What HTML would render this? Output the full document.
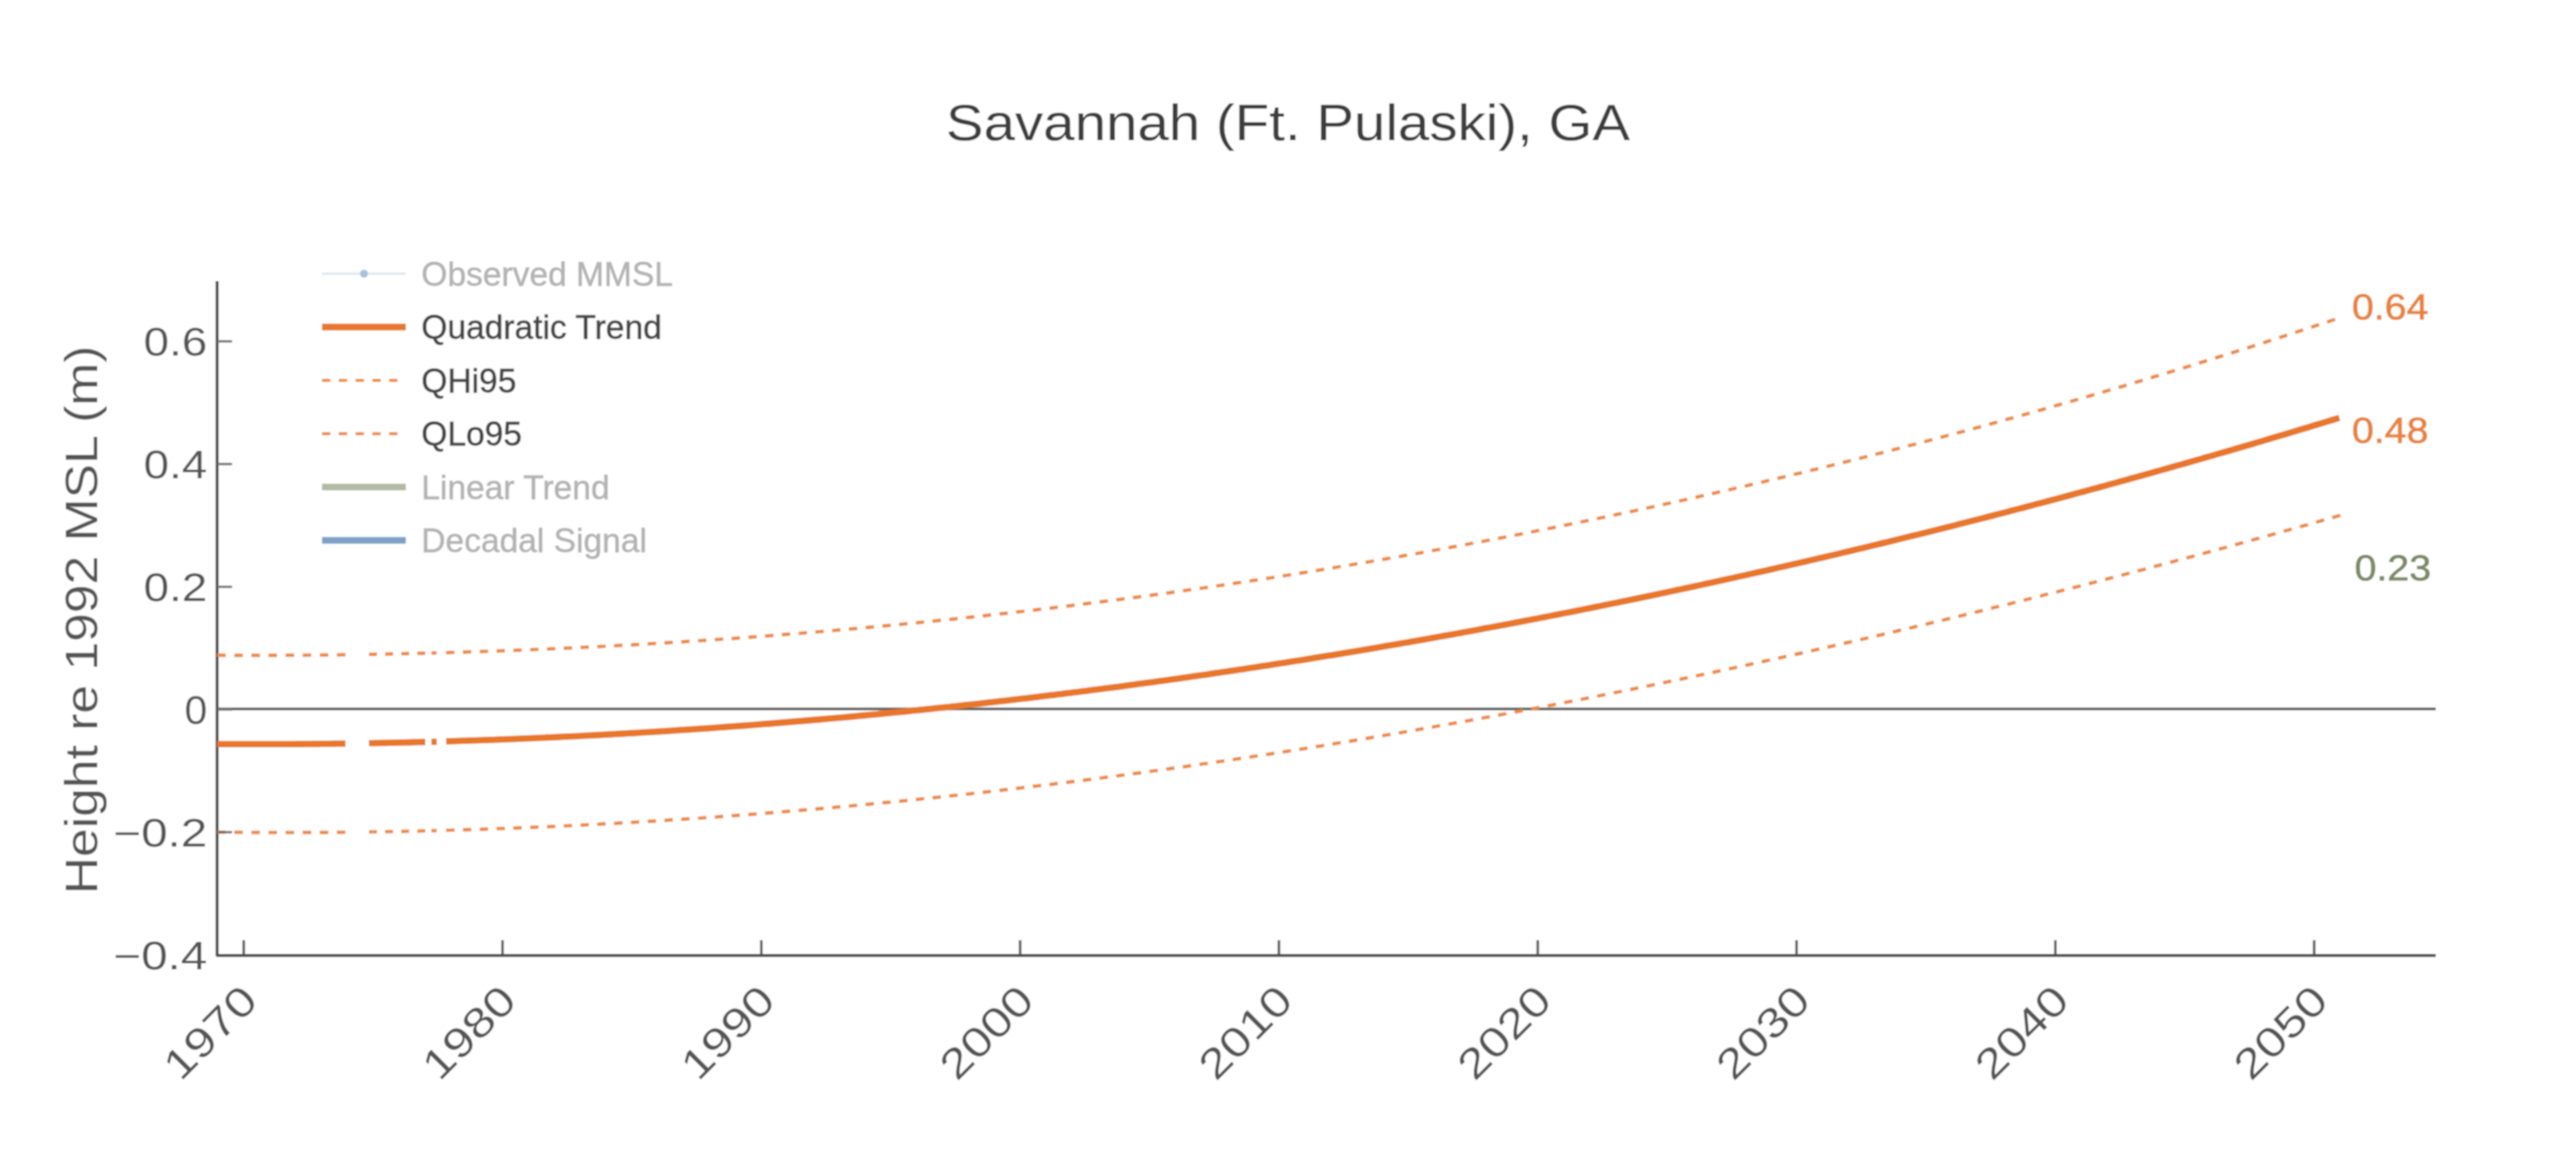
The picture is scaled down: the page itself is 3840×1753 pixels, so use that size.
<!DOCTYPE html><html><head><meta charset="utf-8"><style>html,body{margin:0;padding:0;background:#fff;overflow:hidden}svg{display:block}</style></head><body>
<svg width="3840" height="1753" viewBox="0 0 3840 1753" style="font-family:'Liberation Sans', sans-serif">
<defs><filter id="bl" x="0" y="0" width="3840" height="1753" filterUnits="userSpaceOnUse"><feGaussianBlur stdDeviation="0.8"/></filter></defs><g filter="url(#bl)">
<rect width="3840" height="1753" fill="#fff"/>
<text x="1410" y="208.5" font-size="76" fill="#3d3d3d" textLength="1020" lengthAdjust="spacingAndGlyphs">Savannah (Ft. Pulaski), GA</text>
<text transform="translate(145,1333) rotate(-90)" x="0" y="0" font-size="68" fill="#555" textLength="818" lengthAdjust="spacingAndGlyphs">Height re 1992 MSL (m)</text>
<text x="309" y="529.8" font-size="58.5" fill="#555" text-anchor="end" textLength="95" lengthAdjust="spacingAndGlyphs">0.6</text>
<text x="309" y="712.7" font-size="58.5" fill="#555" text-anchor="end" textLength="95" lengthAdjust="spacingAndGlyphs">0.4</text>
<text x="309" y="895.7" font-size="58.5" fill="#555" text-anchor="end" textLength="95" lengthAdjust="spacingAndGlyphs">0.2</text>
<text x="309" y="1078.6" font-size="58.5" fill="#555" text-anchor="end" textLength="34" lengthAdjust="spacingAndGlyphs">0</text>
<text x="309" y="1261.5" font-size="58.5" fill="#555" text-anchor="end" textLength="140" lengthAdjust="spacingAndGlyphs">−0.2</text>
<text x="309" y="1444.5" font-size="58.5" fill="#555" text-anchor="end" textLength="140" lengthAdjust="spacingAndGlyphs">−0.4</text>
<line x1="323.7" y1="1056.8" x2="3631" y2="1056.8" stroke="#5a5a5a" stroke-width="4"/>
<line x1="363.3" y1="1401.5" x2="363.3" y2="1424" stroke="#606060" stroke-width="4"/>
<text transform="translate(387.3,1495) rotate(-45)" x="0" y="0" font-size="62" fill="#555" text-anchor="end" textLength="167" lengthAdjust="spacingAndGlyphs">1970</text>
<line x1="749.1" y1="1401.5" x2="749.1" y2="1424" stroke="#606060" stroke-width="4"/>
<text transform="translate(773.1,1495) rotate(-45)" x="0" y="0" font-size="62" fill="#555" text-anchor="end" textLength="167" lengthAdjust="spacingAndGlyphs">1980</text>
<line x1="1134.9" y1="1401.5" x2="1134.9" y2="1424" stroke="#606060" stroke-width="4"/>
<text transform="translate(1158.9,1495) rotate(-45)" x="0" y="0" font-size="62" fill="#555" text-anchor="end" textLength="167" lengthAdjust="spacingAndGlyphs">1990</text>
<line x1="1520.7" y1="1401.5" x2="1520.7" y2="1424" stroke="#606060" stroke-width="4"/>
<text transform="translate(1544.7,1495) rotate(-45)" x="0" y="0" font-size="62" fill="#555" text-anchor="end" textLength="167" lengthAdjust="spacingAndGlyphs">2000</text>
<line x1="1906.5" y1="1401.5" x2="1906.5" y2="1424" stroke="#606060" stroke-width="4"/>
<text transform="translate(1930.5,1495) rotate(-45)" x="0" y="0" font-size="62" fill="#555" text-anchor="end" textLength="167" lengthAdjust="spacingAndGlyphs">2010</text>
<line x1="2292.3" y1="1401.5" x2="2292.3" y2="1424" stroke="#606060" stroke-width="4"/>
<text transform="translate(2316.3,1495) rotate(-45)" x="0" y="0" font-size="62" fill="#555" text-anchor="end" textLength="167" lengthAdjust="spacingAndGlyphs">2020</text>
<line x1="2678.1" y1="1401.5" x2="2678.1" y2="1424" stroke="#606060" stroke-width="4"/>
<text transform="translate(2702.1,1495) rotate(-45)" x="0" y="0" font-size="62" fill="#555" text-anchor="end" textLength="167" lengthAdjust="spacingAndGlyphs">2030</text>
<line x1="3063.9" y1="1401.5" x2="3063.9" y2="1424" stroke="#606060" stroke-width="4"/>
<text transform="translate(3087.9,1495) rotate(-45)" x="0" y="0" font-size="62" fill="#555" text-anchor="end" textLength="167" lengthAdjust="spacingAndGlyphs">2040</text>
<line x1="3449.7" y1="1401.5" x2="3449.7" y2="1424" stroke="#606060" stroke-width="4"/>
<text transform="translate(3473.7,1495) rotate(-45)" x="0" y="0" font-size="62" fill="#555" text-anchor="end" textLength="167" lengthAdjust="spacingAndGlyphs">2050</text>
<path d="M323.7,419 L323.7,1424.3 L3631,1424.3" fill="none" stroke="#4c4c4c" stroke-width="4.5" stroke-linejoin="round"/>
<path d="M323.7,976.7 L329.7,976.7 L335.7,976.8 L341.7,976.8 L347.7,976.8 L353.7,976.8 L359.7,976.8 L365.7,976.9 L371.7,976.9 L377.7,976.9 L383.7,976.9 L389.7,976.9 L395.7,976.8 L401.7,976.8 L407.7,976.8 L413.7,976.8 L419.7,976.8 L425.7,976.7 L431.7,976.7 L437.7,976.7 L443.7,976.6 L449.7,976.6 L455.7,976.6 L461.7,976.5 L467.7,976.5 L473.7,976.4 L479.7,976.4 L485.7,976.3 L491.7,976.2 L497.7,976.2 L503.7,976.1 L509.7,976.0 L515.0,975.9" fill="none" stroke="#ee8a45" stroke-width="5.2" stroke-dasharray="12.754,12.754"/><path d="M550.0,975.4 L556.0,975.3 L562.0,975.2 L568.0,975.1 L574.0,975.0 L580.0,974.9 L586.0,974.7 L592.0,974.6 L598.0,974.5 L604.0,974.4 L610.0,974.2 L616.0,974.1 L622.0,973.9 L628.0,973.8 L634.0,973.6" fill="none" stroke="#ee8a45" stroke-width="5.2" stroke-dasharray="12.003,12.003"/><path d="M643.0,973.4 L649.0,973.3 L651.0,973.2" fill="none" stroke="#ee8a45" stroke-width="5.2" stroke-dasharray="12.500,12.500"/><path d="M665.0,972.8 L671.0,972.7 L677.0,972.5 L683.0,972.3 L689.0,972.1 L695.0,971.9 L701.0,971.7 L707.0,971.6 L713.0,971.4 L719.0,971.2 L725.0,971.0 L731.0,970.7 L737.0,970.5 L743.0,970.3 L749.0,970.1 L755.0,969.9 L761.0,969.7 L767.0,969.4 L773.0,969.2 L779.0,969.0 L785.0,968.7 L791.0,968.5 L797.0,968.2 L803.0,968.0 L809.0,967.7 L815.0,967.5 L821.0,967.2 L827.0,967.0 L833.0,966.7 L839.0,966.4 L845.0,966.1 L851.0,965.9 L857.0,965.6 L863.0,965.3 L869.0,965.0 L875.0,964.7 L881.0,964.4 L887.0,964.1 L893.0,963.8 L899.0,963.5 L905.0,963.2 L911.0,962.9 L917.0,962.6 L923.0,962.2 L929.0,961.9 L935.0,961.6 L941.0,961.3 L947.0,960.9 L953.0,960.6 L959.0,960.2 L965.0,959.9 L971.0,959.5 L977.0,959.2 L983.0,958.8 L989.0,958.5 L995.0,958.1 L1001.0,957.7 L1007.0,957.4 L1013.0,957.0 L1019.0,956.6 L1025.0,956.2 L1031.0,955.8 L1037.0,955.4 L1043.0,955.0 L1049.0,954.6 L1055.0,954.2 L1061.0,953.8 L1067.0,953.4 L1073.0,953.0 L1079.0,952.6 L1085.0,952.2 L1091.0,951.8 L1097.0,951.3 L1103.0,950.9 L1109.0,950.5 L1115.0,950.0 L1121.0,949.6 L1127.0,949.1 L1133.0,948.7 L1139.0,948.2 L1145.0,947.8 L1151.0,947.3 L1157.0,946.9 L1163.0,946.4 L1169.0,945.9 L1175.0,945.4 L1181.0,945.0 L1187.0,944.5 L1193.0,944.0 L1199.0,943.5 L1205.0,943.0 L1211.0,942.5 L1217.0,942.0 L1223.0,941.5 L1229.0,941.0 L1235.0,940.5 L1241.0,940.0 L1247.0,939.4 L1253.0,938.9 L1259.0,938.4 L1265.0,937.9 L1271.0,937.3 L1277.0,936.8 L1283.0,936.2 L1289.0,935.7 L1295.0,935.2 L1301.0,934.6 L1307.0,934.0 L1313.0,933.5 L1319.0,932.9 L1325.0,932.4 L1331.0,931.8 L1337.0,931.2 L1343.0,930.6 L1349.0,930.0 L1355.0,929.5 L1361.0,928.9 L1367.0,928.3 L1373.0,927.7 L1379.0,927.1 L1385.0,926.5 L1391.0,925.9 L1397.0,925.2 L1403.0,924.6 L1409.0,924.0 L1415.0,923.4 L1421.0,922.8 L1427.0,922.1 L1433.0,921.5 L1439.0,920.9 L1445.0,920.2 L1451.0,919.6 L1457.0,918.9 L1463.0,918.3 L1469.0,917.6 L1475.0,916.9 L1481.0,916.3 L1487.0,915.6 L1493.0,914.9 L1499.0,914.3 L1505.0,913.6 L1511.0,912.9 L1517.0,912.2 L1523.0,911.5 L1529.0,910.8 L1535.0,910.1 L1541.0,909.4 L1547.0,908.7 L1553.0,908.0 L1559.0,907.3 L1565.0,906.6 L1571.0,905.8 L1577.0,905.1 L1583.0,904.4 L1589.0,903.7 L1595.0,902.9 L1601.0,902.2 L1607.0,901.4 L1613.0,900.7 L1619.0,899.9 L1625.0,899.2 L1631.0,898.4 L1637.0,897.7 L1643.0,896.9 L1649.0,896.1 L1655.0,895.3 L1661.0,894.6 L1667.0,893.8 L1673.0,893.0 L1679.0,892.2 L1685.0,891.4 L1691.0,890.6 L1697.0,889.8 L1703.0,889.0 L1709.0,888.2 L1715.0,887.4 L1721.0,886.6 L1727.0,885.7 L1733.0,884.9 L1739.0,884.1 L1745.0,883.3 L1751.0,882.4 L1757.0,881.6 L1763.0,880.7 L1769.0,879.9 L1775.0,879.0 L1781.0,878.2 L1787.0,877.3 L1793.0,876.5 L1799.0,875.6 L1805.0,874.7 L1811.0,873.9 L1817.0,873.0 L1823.0,872.1 L1829.0,871.2 L1835.0,870.3 L1841.0,869.4 L1847.0,868.5 L1853.0,867.6 L1859.0,866.7 L1865.0,865.8 L1871.0,864.9 L1877.0,864.0 L1883.0,863.1 L1889.0,862.1 L1895.0,861.2 L1901.0,860.3 L1907.0,859.3 L1913.0,858.4 L1919.0,857.5 L1925.0,856.5 L1931.0,855.6 L1937.0,854.6 L1943.0,853.6 L1949.0,852.7 L1955.0,851.7 L1961.0,850.7 L1967.0,849.8 L1973.0,848.8 L1979.0,847.8 L1985.0,846.8 L1991.0,845.8 L1997.0,844.8 L2003.0,843.8 L2009.0,842.8 L2015.0,841.8 L2021.0,840.8 L2027.0,839.8 L2033.0,838.8 L2039.0,837.8 L2045.0,836.7 L2051.0,835.7 L2057.0,834.7 L2063.0,833.6 L2069.0,832.6 L2075.0,831.6 L2081.0,830.5 L2087.0,829.5 L2093.0,828.4 L2099.0,827.3 L2105.0,826.3 L2111.0,825.2 L2117.0,824.1 L2123.0,823.1 L2129.0,822.0 L2135.0,820.9 L2141.0,819.8 L2147.0,818.7 L2153.0,817.6 L2159.0,816.5 L2165.0,815.4 L2171.0,814.3 L2177.0,813.2 L2183.0,812.1 L2189.0,811.0 L2195.0,809.8 L2201.0,808.7 L2207.0,807.6 L2213.0,806.5 L2219.0,805.3 L2225.0,804.2 L2231.0,803.0 L2237.0,801.9 L2243.0,800.7 L2249.0,799.6 L2255.0,798.4 L2261.0,797.2 L2267.0,796.1 L2273.0,794.9 L2279.0,793.7 L2285.0,792.5 L2291.0,791.3 L2297.0,790.2 L2303.0,789.0 L2309.0,787.8 L2315.0,786.6 L2321.0,785.3 L2327.0,784.1 L2333.0,782.9 L2339.0,781.7 L2345.0,780.5 L2351.0,779.3 L2357.0,778.0 L2363.0,776.8 L2369.0,775.6 L2375.0,774.3 L2381.0,773.1 L2387.0,771.8 L2393.0,770.6 L2399.0,769.3 L2405.0,768.0 L2411.0,766.8 L2417.0,765.5 L2423.0,764.2 L2429.0,763.0 L2435.0,761.7 L2441.0,760.4 L2447.0,759.1 L2453.0,757.8 L2459.0,756.5 L2465.0,755.2 L2471.0,753.9 L2477.0,752.6 L2483.0,751.3 L2489.0,750.0 L2495.0,748.6 L2501.0,747.3 L2507.0,746.0 L2513.0,744.7 L2519.0,743.3 L2525.0,742.0 L2531.0,740.6 L2537.0,739.3 L2543.0,737.9 L2549.0,736.6 L2555.0,735.2 L2561.0,733.8 L2567.0,732.5 L2573.0,731.1 L2579.0,729.7 L2585.0,728.3 L2591.0,727.0 L2597.0,725.6 L2603.0,724.2 L2609.0,722.8 L2615.0,721.4 L2621.0,720.0 L2627.0,718.6 L2633.0,717.1 L2639.0,715.7 L2645.0,714.3 L2651.0,712.9 L2657.0,711.4 L2663.0,710.0 L2669.0,708.6 L2675.0,707.1 L2681.0,705.7 L2687.0,704.2 L2693.0,702.8 L2699.0,701.3 L2705.0,699.9 L2711.0,698.4 L2717.0,696.9 L2723.0,695.4 L2729.0,694.0 L2735.0,692.5 L2741.0,691.0 L2747.0,689.5 L2753.0,688.0 L2759.0,686.5 L2765.0,685.0 L2771.0,683.5 L2777.0,682.0 L2783.0,680.5 L2789.0,678.9 L2795.0,677.4 L2801.0,675.9 L2807.0,674.4 L2813.0,672.8 L2819.0,671.3 L2825.0,669.7 L2831.0,668.2 L2837.0,666.6 L2843.0,665.1 L2849.0,663.5 L2855.0,662.0 L2861.0,660.4 L2867.0,658.8 L2873.0,657.2 L2879.0,655.7 L2885.0,654.1 L2891.0,652.5 L2897.0,650.9 L2903.0,649.3 L2909.0,647.7 L2915.0,646.1 L2921.0,644.5 L2927.0,642.9 L2933.0,641.2 L2939.0,639.6 L2945.0,638.0 L2951.0,636.4 L2957.0,634.7 L2963.0,633.1 L2969.0,631.4 L2975.0,629.8 L2981.0,628.1 L2987.0,626.5 L2993.0,624.8 L2999.0,623.2 L3005.0,621.5 L3011.0,619.8 L3017.0,618.2 L3023.0,616.5 L3029.0,614.8 L3035.0,613.1 L3041.0,611.4 L3047.0,609.7 L3053.0,608.0 L3059.0,606.3 L3065.0,604.6 L3071.0,602.9 L3077.0,601.2 L3083.0,599.4 L3089.0,597.7 L3095.0,596.0 L3101.0,594.3 L3107.0,592.5 L3113.0,590.8 L3119.0,589.0 L3125.0,587.3 L3131.0,585.5 L3137.0,583.8 L3143.0,582.0 L3149.0,580.2 L3155.0,578.5 L3161.0,576.7 L3167.0,574.9 L3173.0,573.1 L3179.0,571.3 L3185.0,569.5 L3191.0,567.8 L3197.0,566.0 L3203.0,564.1 L3209.0,562.3 L3215.0,560.5 L3221.0,558.7 L3227.0,556.9 L3233.0,555.1 L3239.0,553.2 L3245.0,551.4 L3251.0,549.6 L3257.0,547.7 L3263.0,545.9 L3269.0,544.0 L3275.0,542.2 L3281.0,540.3 L3287.0,538.4 L3293.0,536.6 L3299.0,534.7 L3305.0,532.8 L3311.0,530.9 L3317.0,529.1 L3323.0,527.2 L3329.0,525.3 L3335.0,523.4 L3341.0,521.5 L3347.0,519.6 L3353.0,517.7 L3359.0,515.8 L3365.0,513.8 L3371.0,511.9 L3377.0,510.0 L3383.0,508.1 L3389.0,506.1 L3395.0,504.2 L3401.0,502.2 L3407.0,500.3 L3413.0,498.3 L3419.0,496.4 L3425.0,494.4 L3431.0,492.5 L3437.0,490.5 L3443.0,488.5 L3449.0,486.5 L3455.0,484.6 L3461.0,482.6 L3467.0,480.6 L3473.0,478.6 L3479.0,476.6 L3481.0,475.9" fill="none" stroke="#ee8a45" stroke-width="5.2" stroke-dasharray="12.532,12.532"/>
<path d="M323.7,1240.4 L329.7,1240.5 L335.7,1240.5 L341.7,1240.6 L347.7,1240.6 L353.7,1240.7 L359.7,1240.7 L365.7,1240.8 L371.7,1240.8 L377.7,1240.9 L383.7,1240.9 L389.7,1240.9 L395.7,1240.9 L401.7,1241.0 L407.7,1241.0 L413.7,1241.0 L419.7,1241.0 L425.7,1241.0 L431.7,1241.0 L437.7,1241.0 L443.7,1241.0 L449.7,1241.0 L455.7,1240.9 L461.7,1240.9 L467.7,1240.9 L473.7,1240.9 L479.7,1240.8 L485.7,1240.8 L491.7,1240.7 L497.7,1240.7 L503.7,1240.6 L509.7,1240.6 L515.0,1240.5" fill="none" stroke="#ee8a45" stroke-width="5.2" stroke-dasharray="12.754,12.754"/><path d="M550.0,1240.1 L556.0,1240.0 L562.0,1239.9 L568.0,1239.8 L574.0,1239.7 L580.0,1239.6 L586.0,1239.5 L592.0,1239.4 L598.0,1239.3 L604.0,1239.2 L610.0,1239.0 L616.0,1238.9 L622.0,1238.8 L628.0,1238.6 L634.0,1238.5" fill="none" stroke="#ee8a45" stroke-width="5.2" stroke-dasharray="12.002,12.002"/><path d="M643.0,1238.3 L649.0,1238.1 L651.0,1238.1" fill="none" stroke="#ee8a45" stroke-width="5.2" stroke-dasharray="12.500,12.500"/><path d="M665.0,1237.7 L671.0,1237.5 L677.0,1237.4 L683.0,1237.2 L689.0,1237.0 L695.0,1236.8 L701.0,1236.6 L707.0,1236.5 L713.0,1236.3 L719.0,1236.1 L725.0,1235.9 L731.0,1235.6 L737.0,1235.4 L743.0,1235.2 L749.0,1235.0 L755.0,1234.8 L761.0,1234.6 L767.0,1234.3 L773.0,1234.1 L779.0,1233.9 L785.0,1233.6 L791.0,1233.4 L797.0,1233.1 L803.0,1232.9 L809.0,1232.6 L815.0,1232.3 L821.0,1232.1 L827.0,1231.8 L833.0,1231.5 L839.0,1231.2 L845.0,1231.0 L851.0,1230.7 L857.0,1230.4 L863.0,1230.1 L869.0,1229.8 L875.0,1229.5 L881.0,1229.2 L887.0,1228.9 L893.0,1228.6 L899.0,1228.2 L905.0,1227.9 L911.0,1227.6 L917.0,1227.3 L923.0,1226.9 L929.0,1226.6 L935.0,1226.3 L941.0,1225.9 L947.0,1225.6 L953.0,1225.2 L959.0,1224.9 L965.0,1224.5 L971.0,1224.1 L977.0,1223.8 L983.0,1223.4 L989.0,1223.0 L995.0,1222.6 L1001.0,1222.2 L1007.0,1221.9 L1013.0,1221.5 L1019.0,1221.1 L1025.0,1220.7 L1031.0,1220.3 L1037.0,1219.9 L1043.0,1219.5 L1049.0,1219.0 L1055.0,1218.6 L1061.0,1218.2 L1067.0,1217.8 L1073.0,1217.3 L1079.0,1216.9 L1085.0,1216.5 L1091.0,1216.0 L1097.0,1215.6 L1103.0,1215.1 L1109.0,1214.7 L1115.0,1214.2 L1121.0,1213.8 L1127.0,1213.3 L1133.0,1212.8 L1139.0,1212.4 L1145.0,1211.9 L1151.0,1211.4 L1157.0,1210.9 L1163.0,1210.4 L1169.0,1209.9 L1175.0,1209.4 L1181.0,1208.9 L1187.0,1208.4 L1193.0,1207.9 L1199.0,1207.4 L1205.0,1206.9 L1211.0,1206.4 L1217.0,1205.9 L1223.0,1205.3 L1229.0,1204.8 L1235.0,1204.3 L1241.0,1203.8 L1247.0,1203.2 L1253.0,1202.7 L1259.0,1202.1 L1265.0,1201.6 L1271.0,1201.0 L1277.0,1200.5 L1283.0,1199.9 L1289.0,1199.3 L1295.0,1198.8 L1301.0,1198.2 L1307.0,1197.6 L1313.0,1197.0 L1319.0,1196.4 L1325.0,1195.9 L1331.0,1195.3 L1337.0,1194.7 L1343.0,1194.1 L1349.0,1193.5 L1355.0,1192.9 L1361.0,1192.2 L1367.0,1191.6 L1373.0,1191.0 L1379.0,1190.4 L1385.0,1189.8 L1391.0,1189.1 L1397.0,1188.5 L1403.0,1187.9 L1409.0,1187.2 L1415.0,1186.6 L1421.0,1185.9 L1427.0,1185.3 L1433.0,1184.6 L1439.0,1184.0 L1445.0,1183.3 L1451.0,1182.6 L1457.0,1182.0 L1463.0,1181.3 L1469.0,1180.6 L1475.0,1180.0 L1481.0,1179.3 L1487.0,1178.6 L1493.0,1177.9 L1499.0,1177.2 L1505.0,1176.5 L1511.0,1175.8 L1517.0,1175.1 L1523.0,1174.4 L1529.0,1173.7 L1535.0,1173.0 L1541.0,1172.2 L1547.0,1171.5 L1553.0,1170.8 L1559.0,1170.1 L1565.0,1169.3 L1571.0,1168.6 L1577.0,1167.8 L1583.0,1167.1 L1589.0,1166.4 L1595.0,1165.6 L1601.0,1164.8 L1607.0,1164.1 L1613.0,1163.3 L1619.0,1162.6 L1625.0,1161.8 L1631.0,1161.0 L1637.0,1160.2 L1643.0,1159.5 L1649.0,1158.7 L1655.0,1157.9 L1661.0,1157.1 L1667.0,1156.3 L1673.0,1155.5 L1679.0,1154.7 L1685.0,1153.9 L1691.0,1153.1 L1697.0,1152.3 L1703.0,1151.5 L1709.0,1150.7 L1715.0,1149.8 L1721.0,1149.0 L1727.0,1148.2 L1733.0,1147.4 L1739.0,1146.5 L1745.0,1145.7 L1751.0,1144.8 L1757.0,1144.0 L1763.0,1143.1 L1769.0,1142.3 L1775.0,1141.4 L1781.0,1140.6 L1787.0,1139.7 L1793.0,1138.8 L1799.0,1138.0 L1805.0,1137.1 L1811.0,1136.2 L1817.0,1135.3 L1823.0,1134.5 L1829.0,1133.6 L1835.0,1132.7 L1841.0,1131.8 L1847.0,1130.9 L1853.0,1130.0 L1859.0,1129.1 L1865.0,1128.2 L1871.0,1127.3 L1877.0,1126.3 L1883.0,1125.4 L1889.0,1124.5 L1895.0,1123.6 L1901.0,1122.7 L1907.0,1121.7 L1913.0,1120.8 L1919.0,1119.9 L1925.0,1118.9 L1931.0,1118.0 L1937.0,1117.0 L1943.0,1116.1 L1949.0,1115.1 L1955.0,1114.2 L1961.0,1113.2 L1967.0,1112.2 L1973.0,1111.3 L1979.0,1110.3 L1985.0,1109.3 L1991.0,1108.3 L1997.0,1107.3 L2003.0,1106.4 L2009.0,1105.4 L2015.0,1104.4 L2021.0,1103.4 L2027.0,1102.4 L2033.0,1101.4 L2039.0,1100.4 L2045.0,1099.4 L2051.0,1098.4 L2057.0,1097.3 L2063.0,1096.3 L2069.0,1095.3 L2075.0,1094.3 L2081.0,1093.3 L2087.0,1092.2 L2093.0,1091.2 L2099.0,1090.2 L2105.0,1089.1 L2111.0,1088.1 L2117.0,1087.0 L2123.0,1086.0 L2129.0,1084.9 L2135.0,1083.9 L2141.0,1082.8 L2147.0,1081.7 L2153.0,1080.7 L2159.0,1079.6 L2165.0,1078.5 L2171.0,1077.4 L2177.0,1076.4 L2183.0,1075.3 L2189.0,1074.2 L2195.0,1073.1 L2201.0,1072.0 L2207.0,1070.9 L2213.0,1069.8 L2219.0,1068.7 L2225.0,1067.6 L2231.0,1066.5 L2237.0,1065.4 L2243.0,1064.3 L2249.0,1063.1 L2255.0,1062.0 L2261.0,1060.9 L2267.0,1059.8 L2273.0,1058.6 L2279.0,1057.5 L2285.0,1056.4 L2291.0,1055.2 L2297.0,1054.1 L2303.0,1052.9 L2309.0,1051.8 L2315.0,1050.6 L2321.0,1049.5 L2327.0,1048.3 L2333.0,1047.1 L2339.0,1046.0 L2345.0,1044.8 L2351.0,1043.6 L2357.0,1042.5 L2363.0,1041.3 L2369.0,1040.1 L2375.0,1038.9 L2381.0,1037.7 L2387.0,1036.5 L2393.0,1035.3 L2399.0,1034.1 L2405.0,1032.9 L2411.0,1031.7 L2417.0,1030.5 L2423.0,1029.3 L2429.0,1028.1 L2435.0,1026.9 L2441.0,1025.7 L2447.0,1024.4 L2453.0,1023.2 L2459.0,1022.0 L2465.0,1020.8 L2471.0,1019.5 L2477.0,1018.3 L2483.0,1017.0 L2489.0,1015.8 L2495.0,1014.6 L2501.0,1013.3 L2507.0,1012.1 L2513.0,1010.8 L2519.0,1009.5 L2525.0,1008.3 L2531.0,1007.0 L2537.0,1005.7 L2543.0,1004.5 L2549.0,1003.2 L2555.0,1001.9 L2561.0,1000.6 L2567.0,999.4 L2573.0,998.1 L2579.0,996.8 L2585.0,995.5 L2591.0,994.2 L2597.0,992.9 L2603.0,991.6 L2609.0,990.3 L2615.0,989.0 L2621.0,987.7 L2627.0,986.4 L2633.0,985.0 L2639.0,983.7 L2645.0,982.4 L2651.0,981.1 L2657.0,979.7 L2663.0,978.4 L2669.0,977.1 L2675.0,975.7 L2681.0,974.4 L2687.0,973.1 L2693.0,971.7 L2699.0,970.4 L2705.0,969.0 L2711.0,967.6 L2717.0,966.3 L2723.0,964.9 L2729.0,963.6 L2735.0,962.2 L2741.0,960.8 L2747.0,959.5 L2753.0,958.1 L2759.0,956.7 L2765.0,955.3 L2771.0,953.9 L2777.0,952.5 L2783.0,951.2 L2789.0,949.8 L2795.0,948.4 L2801.0,947.0 L2807.0,945.6 L2813.0,944.2 L2819.0,942.8 L2825.0,941.3 L2831.0,939.9 L2837.0,938.5 L2843.0,937.1 L2849.0,935.7 L2855.0,934.2 L2861.0,932.8 L2867.0,931.4 L2873.0,930.0 L2879.0,928.5 L2885.0,927.1 L2891.0,925.6 L2897.0,924.2 L2903.0,922.7 L2909.0,921.3 L2915.0,919.8 L2921.0,918.4 L2927.0,916.9 L2933.0,915.5 L2939.0,914.0 L2945.0,912.5 L2951.0,911.1 L2957.0,909.6 L2963.0,908.1 L2969.0,906.6 L2975.0,905.1 L2981.0,903.7 L2987.0,902.2 L2993.0,900.7 L2999.0,899.2 L3005.0,897.7 L3011.0,896.2 L3017.0,894.7 L3023.0,893.2 L3029.0,891.7 L3035.0,890.2 L3041.0,888.7 L3047.0,887.1 L3053.0,885.6 L3059.0,884.1 L3065.0,882.6 L3071.0,881.1 L3077.0,879.5 L3083.0,878.0 L3089.0,876.5 L3095.0,874.9 L3101.0,873.4 L3107.0,871.8 L3113.0,870.3 L3119.0,868.7 L3125.0,867.2 L3131.0,865.6 L3137.0,864.1 L3143.0,862.5 L3149.0,861.0 L3155.0,859.4 L3161.0,857.8 L3167.0,856.3 L3173.0,854.7 L3179.0,853.1 L3185.0,851.5 L3191.0,850.0 L3197.0,848.4 L3203.0,846.8 L3209.0,845.2 L3215.0,843.6 L3221.0,842.0 L3227.0,840.4 L3233.0,838.8 L3239.0,837.2 L3245.0,835.6 L3251.0,834.0 L3257.0,832.4 L3263.0,830.8 L3269.0,829.2 L3275.0,827.6 L3281.0,825.9 L3287.0,824.3 L3293.0,822.7 L3299.0,821.1 L3305.0,819.4 L3311.0,817.8 L3317.0,816.2 L3323.0,814.5 L3329.0,812.9 L3335.0,811.2 L3341.0,809.6 L3347.0,807.9 L3353.0,806.3 L3359.0,804.6 L3365.0,803.0 L3371.0,801.3 L3377.0,799.6 L3383.0,798.0 L3389.0,796.3 L3395.0,794.6 L3401.0,793.0 L3407.0,791.3 L3413.0,789.6 L3419.0,787.9 L3425.0,786.3 L3431.0,784.6 L3437.0,782.9 L3443.0,781.2 L3449.0,779.5 L3455.0,777.8 L3461.0,776.1 L3467.0,774.4 L3473.0,772.7 L3479.0,771.0 L3485.0,769.3 L3488.7,768.2" fill="none" stroke="#ee8a45" stroke-width="5.2" stroke-dasharray="12.533,12.533"/>
<path d="M323.7,1109.2 L329.7,1109.2 L335.7,1109.2 L341.7,1109.3 L347.7,1109.3 L353.7,1109.3 L359.7,1109.3 L365.7,1109.3 L371.7,1109.3 L377.7,1109.3 L383.7,1109.3 L389.7,1109.3 L395.7,1109.3 L401.7,1109.3 L407.7,1109.3 L413.7,1109.3 L419.7,1109.3 L425.7,1109.2 L431.7,1109.2 L437.7,1109.2 L443.7,1109.1 L449.7,1109.1 L455.7,1109.0 L461.7,1109.0 L467.7,1108.9 L473.7,1108.9 L479.7,1108.8 L485.7,1108.8 L491.7,1108.7 L497.7,1108.6 L503.7,1108.5 L509.7,1108.5 L515.0,1108.4 M550.0,1107.8 L556.0,1107.7 L562.0,1107.6 L568.0,1107.5 L574.0,1107.4 L580.0,1107.2 L586.0,1107.1 L592.0,1107.0 L598.0,1106.9 L604.0,1106.7 L610.0,1106.6 L616.0,1106.4 L622.0,1106.3 L628.0,1106.1 L634.0,1106.0 M643.0,1105.7 L649.0,1105.6 L651.0,1105.5 M665.0,1105.1 L671.0,1104.9 L677.0,1104.7 L683.0,1104.5 L689.0,1104.3 L695.0,1104.1 L701.0,1103.9 L707.0,1103.7 L713.0,1103.5 L719.0,1103.3 L725.0,1103.1 L731.0,1102.9 L737.0,1102.7 L743.0,1102.4 L749.0,1102.2 L755.0,1102.0 L761.0,1101.7 L767.0,1101.5 L773.0,1101.3 L779.0,1101.0 L785.0,1100.8 L791.0,1100.5 L797.0,1100.2 L803.0,1100.0 L809.0,1099.7 L815.0,1099.4 L821.0,1099.2 L827.0,1098.9 L833.0,1098.6 L839.0,1098.3 L845.0,1098.0 L851.0,1097.7 L857.0,1097.5 L863.0,1097.2 L869.0,1096.8 L875.0,1096.5 L881.0,1096.2 L887.0,1095.9 L893.0,1095.6 L899.0,1095.3 L905.0,1094.9 L911.0,1094.6 L917.0,1094.3 L923.0,1093.9 L929.0,1093.6 L935.0,1093.3 L941.0,1092.9 L947.0,1092.6 L953.0,1092.2 L959.0,1091.8 L965.0,1091.5 L971.0,1091.1 L977.0,1090.7 L983.0,1090.4 L989.0,1090.0 L995.0,1089.6 L1001.0,1089.2 L1007.0,1088.8 L1013.0,1088.4 L1019.0,1088.0 L1025.0,1087.6 L1031.0,1087.2 L1037.0,1086.8 L1043.0,1086.4 L1049.0,1086.0 L1055.0,1085.6 L1061.0,1085.2 L1067.0,1084.7 L1073.0,1084.3 L1079.0,1083.9 L1085.0,1083.4 L1091.0,1083.0 L1097.0,1082.5 L1103.0,1082.1 L1109.0,1081.6 L1115.0,1081.2 L1121.0,1080.7 L1127.0,1080.3 L1133.0,1079.8 L1139.0,1079.3 L1145.0,1078.9 L1151.0,1078.4 L1157.0,1077.9 L1163.0,1077.4 L1169.0,1076.9 L1175.0,1076.4 L1181.0,1075.9 L1187.0,1075.4 L1193.0,1074.9 L1199.0,1074.4 L1205.0,1073.9 L1211.0,1073.4 L1217.0,1072.9 L1223.0,1072.4 L1229.0,1071.8 L1235.0,1071.3 L1241.0,1070.8 L1247.0,1070.2 L1253.0,1069.7 L1259.0,1069.2 L1265.0,1068.6 L1271.0,1068.1 L1277.0,1067.5 L1283.0,1066.9 L1289.0,1066.4 L1295.0,1065.8 L1301.0,1065.2 L1307.0,1064.7 L1313.0,1064.1 L1319.0,1063.5 L1325.0,1062.9 L1331.0,1062.3 L1337.0,1061.8 L1343.0,1061.2 L1349.0,1060.6 L1355.0,1060.0 L1361.0,1059.3 L1367.0,1058.7 L1373.0,1058.1 L1379.0,1057.5 L1385.0,1056.9 L1391.0,1056.3 L1397.0,1055.6 L1403.0,1055.0 L1409.0,1054.4 L1415.0,1053.7 L1421.0,1053.1 L1427.0,1052.4 L1433.0,1051.8 L1439.0,1051.1 L1445.0,1050.5 L1451.0,1049.8 L1457.0,1049.2 L1463.0,1048.5 L1469.0,1047.8 L1475.0,1047.1 L1481.0,1046.5 L1487.0,1045.8 L1493.0,1045.1 L1499.0,1044.4 L1505.0,1043.7 L1511.0,1043.0 L1517.0,1042.3 L1523.0,1041.6 L1529.0,1040.9 L1535.0,1040.2 L1541.0,1039.5 L1547.0,1038.8 L1553.0,1038.0 L1559.0,1037.3 L1565.0,1036.6 L1571.0,1035.9 L1577.0,1035.1 L1583.0,1034.4 L1589.0,1033.6 L1595.0,1032.9 L1601.0,1032.1 L1607.0,1031.4 L1613.0,1030.6 L1619.0,1029.9 L1625.0,1029.1 L1631.0,1028.3 L1637.0,1027.6 L1643.0,1026.8 L1649.0,1026.0 L1655.0,1025.2 L1661.0,1024.4 L1667.0,1023.7 L1673.0,1022.9 L1679.0,1022.1 L1685.0,1021.3 L1691.0,1020.5 L1697.0,1019.6 L1703.0,1018.8 L1709.0,1018.0 L1715.0,1017.2 L1721.0,1016.4 L1727.0,1015.6 L1733.0,1014.7 L1739.0,1013.9 L1745.0,1013.1 L1751.0,1012.2 L1757.0,1011.4 L1763.0,1010.5 L1769.0,1009.7 L1775.0,1008.8 L1781.0,1008.0 L1787.0,1007.1 L1793.0,1006.2 L1799.0,1005.4 L1805.0,1004.5 L1811.0,1003.6 L1817.0,1002.7 L1823.0,1001.8 L1829.0,1001.0 L1835.0,1000.1 L1841.0,999.2 L1847.0,998.3 L1853.0,997.4 L1859.0,996.5 L1865.0,995.6 L1871.0,994.7 L1877.0,993.7 L1883.0,992.8 L1889.0,991.9 L1895.0,991.0 L1901.0,990.0 L1907.0,989.1 L1913.0,988.2 L1919.0,987.2 L1925.0,986.3 L1931.0,985.3 L1937.0,984.4 L1943.0,983.4 L1949.0,982.5 L1955.0,981.5 L1961.0,980.6 L1967.0,979.6 L1973.0,978.6 L1979.0,977.6 L1985.0,976.7 L1991.0,975.7 L1997.0,974.7 L2003.0,973.7 L2009.0,972.7 L2015.0,971.7 L2021.0,970.7 L2027.0,969.7 L2033.0,968.7 L2039.0,967.7 L2045.0,966.7 L2051.0,965.7 L2057.0,964.6 L2063.0,963.6 L2069.0,962.6 L2075.0,961.6 L2081.0,960.5 L2087.0,959.5 L2093.0,958.4 L2099.0,957.4 L2105.0,956.3 L2111.0,955.3 L2117.0,954.2 L2123.0,953.2 L2129.0,952.1 L2135.0,951.0 L2141.0,950.0 L2147.0,948.9 L2153.0,947.8 L2159.0,946.7 L2165.0,945.7 L2171.0,944.6 L2177.0,943.5 L2183.0,942.4 L2189.0,941.3 L2195.0,940.2 L2201.0,939.1 L2207.0,938.0 L2213.0,936.8 L2219.0,935.7 L2225.0,934.6 L2231.0,933.5 L2237.0,932.4 L2243.0,931.2 L2249.0,930.1 L2255.0,929.0 L2261.0,927.8 L2267.0,926.7 L2273.0,925.5 L2279.0,924.4 L2285.0,923.2 L2291.0,922.1 L2297.0,920.9 L2303.0,919.7 L2309.0,918.6 L2315.0,917.4 L2321.0,916.2 L2327.0,915.0 L2333.0,913.9 L2339.0,912.7 L2345.0,911.5 L2351.0,910.3 L2357.0,909.1 L2363.0,907.9 L2369.0,906.7 L2375.0,905.5 L2381.0,904.3 L2387.0,903.1 L2393.0,901.8 L2399.0,900.6 L2405.0,899.4 L2411.0,898.2 L2417.0,896.9 L2423.0,895.7 L2429.0,894.5 L2435.0,893.2 L2441.0,892.0 L2447.0,890.7 L2453.0,889.5 L2459.0,888.2 L2465.0,887.0 L2471.0,885.7 L2477.0,884.4 L2483.0,883.2 L2489.0,881.9 L2495.0,880.6 L2501.0,879.3 L2507.0,878.1 L2513.0,876.8 L2519.0,875.5 L2525.0,874.2 L2531.0,872.9 L2537.0,871.6 L2543.0,870.3 L2549.0,869.0 L2555.0,867.7 L2561.0,866.4 L2567.0,865.0 L2573.0,863.7 L2579.0,862.4 L2585.0,861.1 L2591.0,859.7 L2597.0,858.4 L2603.0,857.1 L2609.0,855.7 L2615.0,854.4 L2621.0,853.0 L2627.0,851.7 L2633.0,850.3 L2639.0,849.0 L2645.0,847.6 L2651.0,846.2 L2657.0,844.9 L2663.0,843.5 L2669.0,842.1 L2675.0,840.7 L2681.0,839.4 L2687.0,838.0 L2693.0,836.6 L2699.0,835.2 L2705.0,833.8 L2711.0,832.4 L2717.0,831.0 L2723.0,829.6 L2729.0,828.2 L2735.0,826.8 L2741.0,825.3 L2747.0,823.9 L2753.0,822.5 L2759.0,821.1 L2765.0,819.6 L2771.0,818.2 L2777.0,816.8 L2783.0,815.3 L2789.0,813.9 L2795.0,812.4 L2801.0,811.0 L2807.0,809.5 L2813.0,808.1 L2819.0,806.6 L2825.0,805.1 L2831.0,803.7 L2837.0,802.2 L2843.0,800.7 L2849.0,799.2 L2855.0,797.8 L2861.0,796.3 L2867.0,794.8 L2873.0,793.3 L2879.0,791.8 L2885.0,790.3 L2891.0,788.8 L2897.0,787.3 L2903.0,785.8 L2909.0,784.3 L2915.0,782.8 L2921.0,781.2 L2927.0,779.7 L2933.0,778.2 L2939.0,776.7 L2945.0,775.1 L2951.0,773.6 L2957.0,772.1 L2963.0,770.5 L2969.0,769.0 L2975.0,767.4 L2981.0,765.9 L2987.0,764.3 L2993.0,762.8 L2999.0,761.2 L3005.0,759.6 L3011.0,758.1 L3017.0,756.5 L3023.0,754.9 L3029.0,753.3 L3035.0,751.7 L3041.0,750.2 L3047.0,748.6 L3053.0,747.0 L3059.0,745.4 L3065.0,743.8 L3071.0,742.2 L3077.0,740.6 L3083.0,739.0 L3089.0,737.3 L3095.0,735.7 L3101.0,734.1 L3107.0,732.5 L3113.0,730.9 L3119.0,729.2 L3125.0,727.6 L3131.0,726.0 L3137.0,724.3 L3143.0,722.7 L3149.0,721.0 L3155.0,719.4 L3161.0,717.7 L3167.0,716.1 L3173.0,714.4 L3179.0,712.7 L3185.0,711.1 L3191.0,709.4 L3197.0,707.7 L3203.0,706.1 L3209.0,704.4 L3215.0,702.7 L3221.0,701.0 L3227.0,699.3 L3233.0,697.6 L3239.0,695.9 L3245.0,694.2 L3251.0,692.5 L3257.0,690.8 L3263.0,689.1 L3269.0,687.4 L3275.0,685.7 L3281.0,684.0 L3287.0,682.2 L3293.0,680.5 L3299.0,678.8 L3305.0,677.0 L3311.0,675.3 L3317.0,673.6 L3323.0,671.8 L3329.0,670.1 L3335.0,668.3 L3341.0,666.6 L3347.0,664.8 L3353.0,663.1 L3359.0,661.3 L3365.0,659.5 L3371.0,657.8 L3377.0,656.0 L3383.0,654.2 L3389.0,652.4 L3395.0,650.6 L3401.0,648.9 L3407.0,647.1 L3413.0,645.3 L3419.0,643.5 L3425.0,641.7 L3431.0,639.9 L3437.0,638.1 L3443.0,636.3 L3449.0,634.4 L3455.0,632.6 L3461.0,630.8 L3467.0,629.0 L3473.0,627.2 L3479.0,625.3 L3485.0,623.5 L3487.2,622.8" fill="none" stroke="#e8772a" stroke-width="9.6"/>
<line x1="323.7" y1="508.8" x2="346" y2="508.8" stroke="#707070" stroke-width="3.5"/>
<line x1="323.7" y1="691.7" x2="346" y2="691.7" stroke="#707070" stroke-width="3.5"/>
<line x1="323.7" y1="874.7" x2="346" y2="874.7" stroke="#707070" stroke-width="3.5"/>
<line x1="323.7" y1="1057.6" x2="346" y2="1057.6" stroke="#707070" stroke-width="3.5"/>
<line x1="323.7" y1="1240.5" x2="346" y2="1240.5" stroke="#707070" stroke-width="3.5"/>
<text x="3506" y="476" font-size="53.5" fill="#e8823a" stroke="#e8823a" stroke-width="1" textLength="114" lengthAdjust="spacingAndGlyphs">0.64</text>
<text x="3506" y="660" font-size="53.5" fill="#e8823a" stroke="#e8823a" stroke-width="1" textLength="114" lengthAdjust="spacingAndGlyphs">0.48</text>
<text x="3510" y="865" font-size="53.5" fill="#7c8a66" stroke="#7c8a66" stroke-width="1" textLength="114" lengthAdjust="spacingAndGlyphs">0.23</text>
<line x1="480" y1="408.0" x2="605" y2="408.0" stroke="#dce4ee" stroke-width="3"/>
<circle cx="542.6" cy="408.0" r="6" fill="#aac0d9"/>
<text x="628" y="426.0" font-size="50" fill="#b4b4b4" stroke="#b4b4b4" stroke-width="0.8">Observed MMSL</text>
<line x1="480" y1="487.5" x2="605" y2="487.5" stroke="#e8772a" stroke-width="10"/>
<text x="628" y="505.4" font-size="50" fill="#464646" stroke="#464646" stroke-width="0.8">Quadratic Trend</text>
<line x1="480" y1="567.0" x2="605" y2="567.0" stroke="#ee8a45" stroke-width="4.5" stroke-dasharray="12.5,12.5"/>
<text x="628" y="584.8" font-size="50" fill="#464646" stroke="#464646" stroke-width="0.8">QHi95</text>
<line x1="480" y1="646.5" x2="605" y2="646.5" stroke="#ee8a45" stroke-width="4.5" stroke-dasharray="12.5,12.5"/>
<text x="628" y="664.2" font-size="50" fill="#464646" stroke="#464646" stroke-width="0.8">QLo95</text>
<line x1="480" y1="726.0" x2="605" y2="726.0" stroke="#b3bba4" stroke-width="10"/>
<text x="628" y="743.6" font-size="50" fill="#b4b4b4" stroke="#b4b4b4" stroke-width="0.8">Linear Trend</text>
<line x1="480" y1="805.5" x2="605" y2="805.5" stroke="#7ea0c6" stroke-width="10"/>
<text x="628" y="823.0" font-size="50" fill="#b4b4b4" stroke="#b4b4b4" stroke-width="0.8">Decadal Signal</text>
</g></svg></body></html>
